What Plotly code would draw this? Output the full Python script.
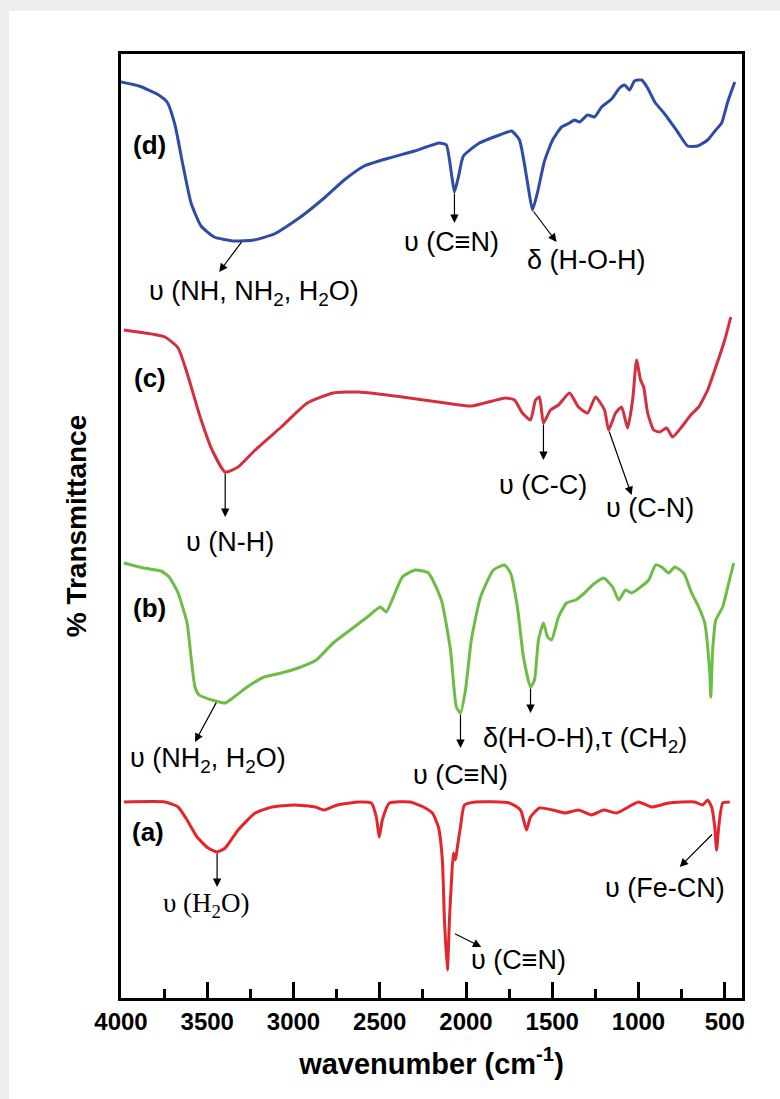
import numpy as np
import plotly.graph_objects as go

# FT-IR spectra, wavenumber in cm-1 and transmittance in arbitrary units
# (each spectrum is shifted vertically so the four traces can be stacked)

wn_d = [4000, 3896, 3791, 3733, 3687, 3640, 3594, 3536, 3460, 3344, 3228, 3112, 2967,
        2822, 2706, 2590, 2444, 2299, 2154, 2114, 2085, 2067, 2044, 2015, 1922, 1806,
        1736, 1690, 1644, 1615, 1585, 1545, 1498, 1446, 1400, 1371, 1342, 1295, 1255,
        1214, 1156, 1110, 1081, 1052, 1023, 982, 947, 906, 848, 773, 715, 657, 599,
        552, 518, 483, 442]
tr_d = [91.6, 91.2, 90.4, 89.6, 87.3, 83.2, 79.5, 77.2, 76.1, 75.7, 75.8, 76.4, 78.0,
        80.0, 81.8, 83.2, 84.0, 84.7, 85.5, 85.3, 82.5, 80.6, 82.1, 84.2, 85.5, 86.3,
        86.7, 85.8, 81.6, 78.8, 80.6, 83.7, 85.8, 87.1, 87.5, 87.8, 87.6, 88.3, 88.1,
        89.1, 89.9, 91.0, 91.3, 90.8, 91.7, 91.8, 91.0, 89.6, 88.4, 86.6, 85.2, 85.2,
        85.8, 86.8, 87.5, 89.6, 91.6]

wn_c = [3983, 3745, 3669, 3617, 3541, 3472, 3396, 3321, 3222, 3071, 2920, 2770, 2619,
        2369, 2119, 1969, 1771, 1719, 1673, 1626, 1597, 1574, 1551, 1510, 1464, 1400,
        1348, 1295, 1249, 1197, 1173, 1133, 1098, 1063, 1034, 1011, 988, 970, 947, 912,
        877, 837, 802, 750, 697, 651, 599, 552, 500, 465]
tr_c = [66.8, 66.1, 65.0, 62.5, 58.1, 54.8, 52.6, 53.1, 54.8, 57.1, 59.5, 60.5, 60.6,
        60.1, 59.5, 59.2, 60.0, 59.8, 58.5, 57.8, 59.8, 60.1, 57.5, 58.8, 59.3, 60.5,
        59.1, 58.5, 60.1, 58.8, 56.8, 58.5, 59.1, 57.0, 59.8, 63.8, 61.8, 61.1, 58.5,
        56.8, 56.6, 57.0, 56.1, 57.1, 58.3, 59.1, 60.8, 63.1, 65.8, 68.1]

wn_b = [3983, 3867, 3768, 3721, 3669, 3617, 3594, 3571, 3547, 3472, 3396, 3344, 3269,
        3170, 3071, 2973, 2868, 2770, 2671, 2572, 2497, 2462, 2421, 2369, 2294, 2218,
        2143, 2090, 2056, 2032, 2003, 1969, 1916, 1841, 1777, 1742, 1702, 1667, 1626,
        1603, 1580, 1551, 1527, 1504, 1464, 1417, 1365, 1313, 1266, 1202, 1150, 1115,
        1075, 1040, 988, 941, 901, 866, 825, 790, 738, 692, 651, 616, 587, 581, 570,
        552, 512, 477, 448]
tr_b = [43.5, 43.0, 42.7, 42.1, 40.5, 37.5, 34.1, 31.1, 30.3, 29.8, 29.5, 30.1, 31.1,
        32.1, 32.5, 33.0, 33.8, 35.5, 36.8, 38.1, 39.1, 38.6, 40.1, 42.1, 42.8, 42.5,
        39.8, 34.8, 29.1, 28.5, 30.8, 35.8, 40.1, 42.8, 43.3, 42.5, 39.1, 34.1, 31.1,
        31.8, 35.8, 37.5, 36.1, 35.8, 38.1, 39.5, 39.8, 40.5, 41.3, 42.0, 41.1, 39.8,
        40.8, 40.5, 41.1, 41.8, 43.3, 43.1, 42.5, 43.1, 42.5, 40.5, 39.1, 37.5, 32.5,
        30.1, 34.8, 37.8, 39.1, 41.5, 43.5]

wn_a = [3983, 3745, 3669, 3617, 3559, 3495, 3443, 3396, 3321, 3222, 3124, 2996, 2874,
        2822, 2747, 2619, 2549, 2520, 2503, 2485, 2444, 2323, 2247, 2195, 2160, 2137,
        2125, 2108, 2096, 2085, 2073, 2061, 2050, 2032, 2009, 1945, 1748, 1684, 1649,
        1626, 1574, 1498, 1423, 1348, 1272, 1202, 1127, 1000, 924, 825, 674, 628, 599,
        576, 558, 547, 535, 512, 471]
tr_a = [19.6, 19.6, 19.1, 17.8, 16.1, 15.0, 14.6, 15.0, 16.8, 18.5, 19.1, 19.3, 19.1,
        18.8, 19.3, 19.6, 19.5, 18.1, 16.1, 17.8, 19.5, 19.6, 19.1, 18.5, 17.1, 13.8,
        7.8, 2.8, 7.8, 11.5, 14.5, 13.8, 15.1, 17.1, 19.3, 19.6, 19.5, 18.8, 16.8,
        18.1, 19.0, 18.8, 18.5, 18.8, 18.3, 18.8, 18.5, 19.6, 19.1, 19.5, 19.6, 19.3,
        19.8, 19.1, 17.1, 14.8, 17.1, 19.5, 19.6]

spectra = {
    "a": (wn_a, tr_a, "#e3262b"),
    "b": (wn_b, tr_b, "#6cbd47"),
    "c": (wn_c, tr_c, "#d3303f"),
    "d": (wn_d, tr_d, "#2e4ca6"),
}

# Band assignments: text, label centre (wavenumber, value), font style
band_labels = [
    ("(d)", 3832, 85.3, "bold"),
    ("υ (NH, NH<sub>2</sub>, H<sub>2</sub>O)", 3228, 70.5, "sans"),
    ("υ (C≡N)", 2085, 75.6, "sans"),
    ("δ (H-O-H)", 1301, 73.8, "sans"),
    ("(c)", 3832, 62.0, "bold"),
    ("υ (N-H)", 3367, 45.6, "sans"),
    ("υ (C-C)", 1551, 51.3, "sans"),
    ("υ (C-N)", 935, 49.0, "sans"),
    ("(b)", 3832, 39.0, "bold"),
    ("υ (NH<sub>2</sub>, H<sub>2</sub>O)", 3495, 23.8, "sans"),
    ("δ(H-O-H),τ (CH<sub>2</sub>)", 1313, 25.8, "sans"),
    ("υ (C≡N)", 2032, 22.3, "sans"),
    ("(a)", 3843, 16.6, "bold"),
    ("υ (H<sub>2</sub>O)", 3507, 9.3, "serif"),
    ("υ (C≡N)", 1696, 3.8, "sans"),
    ("υ (Fe-CN)", 848, 11.0, "sans"),
]

# Pointers: spectrum, wavenumber where the arrow starts, value there
# (None = on the trace), arrow tip (wavenumber, value)
band_arrows = [
    ("d", 3295, None, 3431, 72.6),
    ("d", 2067, None, 2067, 77.5),
    ("d", 1615, None, 1475, 75.6),
    ("c", 3396, None, 3396, 48.1),
    ("c", 1551, None, 1551, 53.8),
    ("c", 1173, None, 1040, 50.3),
    ("b", 3443, None, 3571, 25.6),
    ("b", 1626, None, 1626, 28.5),
    ("b", 2032, None, 2032, 25.0),
    ("a", 3443, None, 3443, 11.1),
    ("a", 2073, 6.5, 1911, 5.1),
    ("a", 565, 16.5, 761, 13.1),
]

fig = go.Figure()
for key in ["a", "b", "c", "d"]:
    wn, tr, color = spectra[key]
    fig.add_trace(go.Scatter(
        x=wn, y=tr, mode="lines", name=f"({key})",
        line=dict(color=color, width=3, shape="spline", smoothing=0.5),
        showlegend=False,
    ))

fonts = {
    "bold": dict(family="Liberation Sans", size=26, color="black", weight="bold"),
    "sans": dict(family="Liberation Sans", size=27, color="black"),
    "serif": dict(family="Liberation Serif", size=27, color="black"),
}

annotations = []
for text, x, y, style in band_labels:
    annotations.append(dict(x=x, y=y, xref="x", yref="y", text=text,
                            showarrow=False, font=fonts[style],
                            xanchor="center", yanchor="middle"))

for key, tail_wn, tail_val, tip_wn, tip_val in band_arrows:
    wn, tr, _ = spectra[key]
    if tail_val is None:
        tail_val = float(np.interp(tail_wn, wn[::-1], tr[::-1]))
    annotations.append(dict(x=tip_wn, y=tip_val, xref="x", yref="y",
                            ax=tail_wn, ay=tail_val, axref="x", ayref="y",
                            text="", showarrow=True, arrowhead=2, arrowsize=1.4,
                            arrowwidth=1.2, arrowcolor="black"))

fig.update_layout(
    width=780, height=1099,
    margin=dict(l=121, r=38, t=54, b=101),
    paper_bgcolor="white", plot_bgcolor="white",
    annotations=annotations,
    shapes=[
        dict(type="rect", xref="paper", yref="paper", x0=-0.1948, x1=1.0612,
             y0=1.0456, y1=1.0572, fillcolor="#eeeeee", line_width=0, layer="below"),
        dict(type="rect", xref="paper", yref="paper", x0=-0.1948, x1=-0.1804,
             y0=-0.107, y1=1.0572, fillcolor="#eeeeee", line_width=0, layer="below"),
    ],
)

fig.update_xaxes(
    range=[4000, 400], tickmode="linear", tick0=0, dtick=500,
    ticks="inside", ticklen=16, tickwidth=3, tickcolor="black",
    minor=dict(ticks="inside", ticklen=9, tickwidth=3, tickcolor="black", dtick=250),
    showline=True, linewidth=3, linecolor="black", mirror=True,
    showgrid=False, zeroline=False,
    tickfont=dict(family="Liberation Sans", size=24, color="black", weight="bold"),
    title=dict(text="wavenumber (cm<sup>-1</sup>)", standoff=20,
               font=dict(family="Liberation Sans", size=29, color="black", weight="bold")),
)
fig.update_yaxes(
    range=[0, 94.4], showticklabels=False, ticks="",
    showline=True, linewidth=3, linecolor="black", mirror=True,
    showgrid=False, zeroline=False,
    title=dict(text="% Transmittance", standoff=24,
               font=dict(family="Liberation Sans", size=28, color="black", weight="bold")),
)

fig.write_html("out.html")
